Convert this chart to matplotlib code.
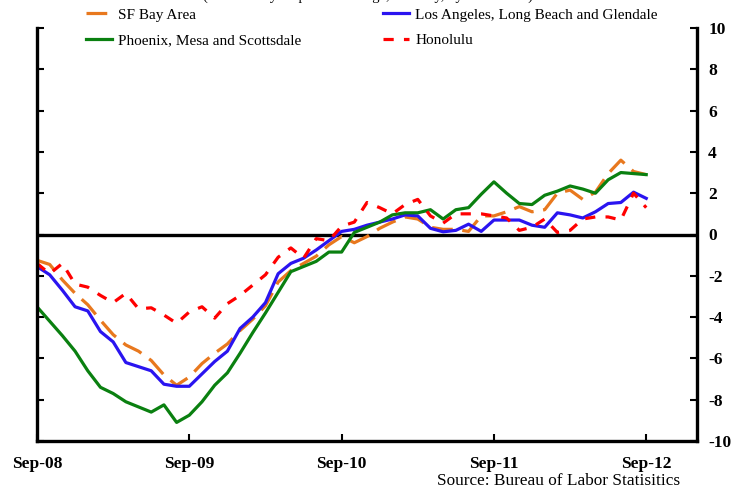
import matplotlib
matplotlib.use("Agg")
import matplotlib.pyplot as plt
import numpy as np

plt.rcParams["font.family"] = ["Liberation Serif", "DejaVu Serif"]

# monthly, Sep-08 .. Sep-12 (49 months)
months = np.arange(49)
tick_pos = [0, 12, 24, 36, 48]
tick_labels = ["Sep-08", "Sep-09", "Sep-10", "Sep-11", "Sep-12"]

sf_bay = [-1.25, -1.45, -2.2, -2.85, -3.4, -4.15, -4.85, -5.35, -5.65, -6.1,
          -6.8, -7.3, -6.9, -6.25, -5.75, -5.3, -4.65, -4.1, -3.45, -2.3,
          -1.75, -1.4, -1.05, -0.5, -0.1, -0.4, -0.1, 0.3, 0.6, 0.85,
          0.75, 0.35, 0.25, 0.25, 0.15, 0.9, 0.9, 1.1, 1.35, 1.1,
          1.2, 2.0, 2.15, 1.7, 2.05, 2.95, 3.6, 3.05, 2.9]

los_angeles = [-1.55, -1.95, -2.7, -3.5, -3.7, -4.7, -5.2, -6.2, -6.4, -6.6,
               -7.25, -7.35, -7.35, -6.75, -6.15, -5.65, -4.55, -4.0, -3.3, -1.9,
               -1.4, -1.15, -0.75, -0.3, 0.15, 0.25, 0.45, 0.6, 0.75, 0.95,
               0.9, 0.3, 0.13, 0.2, 0.5, 0.15, 0.7, 0.7, 0.7, 0.45,
               0.35, 1.05, 0.95, 0.8, 1.1, 1.5, 1.55, 2.05, 1.75]

phoenix = [-3.5, -4.2, -4.9, -5.65, -6.6, -7.4, -7.7, -8.1, -8.35, -8.6,
           -8.25, -9.1, -8.75, -8.1, -7.3, -6.7, -5.75, -4.75, -3.8, -2.8,
           -1.8, -1.55, -1.3, -0.85, -0.85, 0.1, 0.35, 0.6, 0.95, 1.05,
           1.05, 1.2, 0.75, 1.2, 1.3, 1.95, 2.55, 2.0, 1.5, 1.45,
           1.9, 2.1, 2.35, 2.2, 2.0, 2.65, 3.0, 2.95, 2.9]

honolulu = [-1.4, -1.9, -1.4, -2.4, -2.55, -2.95, -3.3, -2.85, -3.6, -3.55,
            -3.9, -4.3, -3.75, -3.5, -4.05, -3.35, -2.95, -2.45, -1.95, -1.1,
            -0.65, -1.15, -0.2, -0.3, 0.4, 0.6, 1.55, 1.3, 1.0, 1.45,
            1.7, 0.9, 0.55, 1.0, 1.0, 1.0, 0.9, 0.8, 0.2, 0.35,
            0.75, 0.1, 0.2, 0.75, 0.85, 0.85, 0.7, 2.0, 1.3]

fig = plt.figure(figsize=(7.35, 4.93), dpi=100)
ax = fig.add_axes([37 / 735, 1 - 441 / 493, 660 / 735, 413 / 493])

lw = 2.3
l_sf, = ax.plot(months, sf_bay, color="#e8781e", lw=lw, dashes=(6.5, 3.0), label="SF Bay Area")
l_la, = ax.plot(months, los_angeles, color="#2a14f0", lw=lw, label="Los Angeles, Long Beach and Glendale")
l_ph, = ax.plot(months, phoenix, color="#0a8010", lw=lw, label="Phoenix, Mesa and Scottsdale")
l_ho, = ax.plot(months, honolulu, color="#ff0000", lw=lw, dashes=(3.2, 3.2), label="Honolulu")

ax.axhline(0, color="black", lw=2.4, zorder=1)

ax.set_xlim(0, 52)
ax.set_ylim(-10, 10)
ax.set_xticks(tick_pos)
ax.set_xticklabels(tick_labels, fontsize=12.5, fontweight="bold")
ax.set_yticks(np.arange(-10, 11, 2))
ax.set_yticklabels([str(v) for v in range(-10, 11, 2)], fontsize=12.5, fontweight="bold")
ax.yaxis.tick_right()
ax.tick_params(axis="y", which="both", direction="in", length=5, width=1.5,
               left=True, right=True, labelleft=False, labelright=True, pad=8)
ax.tick_params(axis="x", direction="in", length=5, width=1.5, pad=11)
ax.spines["top"].set_visible(False)
for s in ("left", "right", "bottom"):
    ax.spines[s].set_linewidth(2.4)

leg = fig.legend(handles=[l_sf, l_ph, l_la, l_ho], ncol=2, frameon=False,
                 loc="upper left", bbox_to_anchor=(86 / 735, 1 - 8 / 493),
                 borderpad=0, borderaxespad=0, fontsize=11,
                 handlelength=1.7, handletextpad=0.4, columnspacing=5.35,
                 labelspacing=0.75)

# title line above the chart, clipped by the top edge as in the source image
fig.text(368 / 735, 1.0, "(Year-over-year percent change, monthly, by metro area)",
         ha="center", va="baseline", fontsize=10.5)
fig.text(680 / 735, 1 - 481 / 493, "Source: Bureau of Labor Statisitics",
         ha="right", va="center", fontsize=12.4)

fig.savefig("out.png", dpi=100)
